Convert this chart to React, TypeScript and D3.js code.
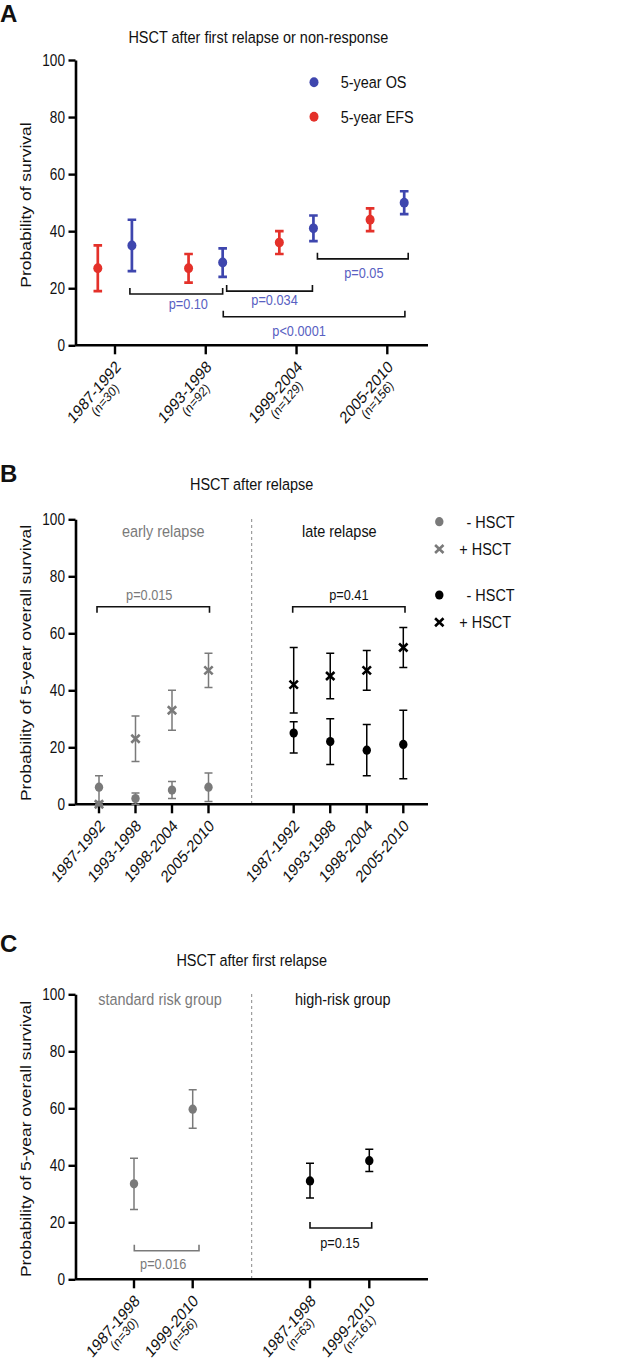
import { useEffect, useRef } from "react";
import * as d3 from "d3";

// the original figure is squeezed horizontally, so text gets the same squeeze
const SX = 0.85;
const FONT = "'Liberation Sans', Arial, Helvetica, sans-serif";
const BLUE = "#3e46ae";
const RED = "#e4312a";
const PBLUE = "#5860c2";
const GREY = "#7a7a7a";
const INK = "#111";

const yTicks = [0, 20, 40, 60, 80, 100];

// ---- panel A : HSCT after first relapse or non-response
const periodsA = ["1987-1992", "1993-1998", "1999-2004", "2005-2010"];
const countsA = ["(n=30)", "(n=92)", "(n=129)", "(n=156)"];
const efsMid = [27, 27, 36, 44];
const efsLo = [19, 22, 32, 40];
const efsHi = [35, 32, 40, 48];
const osMid = [35, 29, 41, 50];
const osLo = [26, 24, 36.5, 46];
const osHi = [44, 34, 45.5, 54];
const pLabelsA = ["p=0.10", "p=0.034", "p=0.05", "p<0.0001"];
const pFromA = [0, 1, 2, 1];
const pToA = [1, 2, 3, 3];
const pLevelA = [18, 19, 30.3, 10];

// ---- panel B : HSCT after relapse
const periodsB = ["1987-1992", "1993-1998", "1998-2004", "2005-2010"];
const earlyNoMid = [6, 2, 5, 6];
const earlyNoLo = [1, 0, 2, 1];
const earlyNoHi = [10, 4, 8, 11];
const earlyTxMid = [0, 23, 33, 47];
const earlyTxLo = [0, 15, 26, 41];
const earlyTxHi = [0, 31, 40, 53];
const lateNoMid = [25, 22, 19, 21];
const lateNoLo = [18, 14, 10, 9];
const lateNoHi = [29, 30, 28, 33];
const lateTxMid = [42, 45, 47, 55];
const lateTxLo = [32, 37, 40, 48];
const lateTxHi = [55, 53, 54, 62];
const pLevelB = [69.3, 69.3];
const pLabelsB = ["p=0.015", "p=0.41"];

// ---- panel C : HSCT after first relapse
const periodsC = ["1987-1998", "1999-2010"];
const countsStd = ["(n=30)", "(n=56)"];
const countsHigh = ["(n=63)", "(n=161)"];
const stdMid = [33.5, 59.7];
const stdLo = [24.5, 53];
const stdHi = [42.5, 66.5];
const highMid = [34.5, 41.6];
const highLo = [28.5, 37.8];
const highHi = [40.7, 45.6];
const pLevelC = [10, 18];
const pLabelsC = ["p=0.016", "p=0.15"];

type Sel = d3.Selection<SVGGElement, unknown, null, undefined>;

function txt(g: Sel, x: number, y: number, s: string, size: number, o: any = {}) {
  const { anchor = "start", fill = INK, weight = "normal", rotate = 0, sx = SX } = o;
  return g.append("text")
    .attr("transform", `translate(${x},${y}) scale(${sx},1)${rotate ? ` rotate(${rotate})` : ""}`)
    .attr("text-anchor", anchor)
    .attr("font-size", size)
    .attr("font-weight", weight)
    .attr("fill", fill)
    .text(s);
}

function yAxis(g: Sel, x0: number, y: d3.ScaleLinear<number, number>) {
  const ax = g.append("g")
    .attr("transform", `translate(${x0},0)`)
    .call(d3.axisLeft(y).tickValues(yTicks).tickSize(7).tickSizeOuter(0).tickPadding(5.4));
  ax.select(".domain").attr("stroke", "#000").attr("stroke-width", 2.6);
  ax.selectAll(".tick line").attr("stroke", "#000").attr("stroke-width", 2.4);
  ax.selectAll(".tick text")
    .attr("transform", `scale(${SX},1)`)
    .attr("font-size", 16)
    .attr("font-family", FONT)
    .attr("fill", INK);
}

function xAxis(g: Sel, x0: number, x1: number, y0: number, ticks: number[]) {
  g.append("line").attr("x1", x0).attr("x2", x1).attr("y1", y0).attr("y2", y0)
    .attr("stroke", "#000").attr("stroke-width", 2.6);
  g.append("g").selectAll("line").data(ticks).join("line")
    .attr("x1", d => d).attr("x2", d => d).attr("y1", y0).attr("y2", y0 + 9)
    .attr("stroke", "#000").attr("stroke-width", 2.4);
}

// rotated period labels, optional count line centred underneath
function xLabels(g: Sel, xs: number[], y0: number, labels: string[], sub?: string[]) {
  xs.forEach((x, i) => {
    const ax = x + 6.5;
    const ay = y0 + 22.5;
    const t = txt(g, ax, ay, labels[i], 16.8, { anchor: "end", rotate: -45 });
    if (sub) {
      const w = (t.node() as SVGTextElement).getComputedTextLength();
      g.append("text")
        .attr("transform", `translate(${ax},${ay}) scale(${SX},1) rotate(-45)`)
        .attr("x", -w / 2 + 4)
        .attr("y", 13.5)
        .attr("text-anchor", "middle")
        .attr("font-size", 13.5)
        .attr("fill", INK)
        .text(sub[i]);
    }
  });
}

function errorPoints(
  g: Sel, xs: number[], mid: number[], lo: number[], hi: number[],
  y: d3.ScaleLinear<number, number>, color: string, shape: "dot" | "x",
  sw: number, cap: number, r: number
) {
  const grp = g.append("g");
  xs.forEach((x, i) => {
    grp.append("path")
      .attr("d", `M${x - cap},${y(hi[i])}H${x + cap}M${x},${y(hi[i])}V${y(lo[i])}M${x - cap},${y(lo[i])}H${x + cap}`)
      .attr("fill", "none").attr("stroke", color).attr("stroke-width", sw);
    marker(grp, x, y(mid[i]), color, shape, r);
  });
}

function marker(g: Sel, x: number, y: number, color: string, shape: "dot" | "x", r: number) {
  if (shape === "dot") {
    g.append("ellipse").attr("cx", x).attr("cy", y).attr("rx", r).attr("ry", r * 1.1).attr("fill", color);
  } else {
    g.append("path")
      .attr("d", `M${x - 4.2},${y - 4}L${x + 4.2},${y + 4}M${x + 4.2},${y - 4}L${x - 4.2},${y + 4}`)
      .attr("stroke", color).attr("stroke-width", 2.6).attr("fill", "none");
  }
}

// bracket: horizontal line at level, ends bent by dir (-1 up, +1 down)
function bracket(g: Sel, x0: number, x1: number, yy: number, dir: number, color: string) {
  g.append("path")
    .attr("d", `M${x0},${yy + dir * 6}V${yy}H${x1}V${yy + dir * 6}`)
    .attr("fill", "none").attr("stroke", color).attr("stroke-width", 1.6);
}

function divider(g: Sel, x: number, y0: number, y1: number) {
  g.append("line").attr("x1", x).attr("x2", x).attr("y1", y0).attr("y2", y1)
    .attr("stroke", "#888").attr("stroke-width", 1).attr("stroke-dasharray", "3,3");
}

function drawA(root: Sel) {
  const g = root.append("g");
  const axisX = 75.5;
  const y = d3.scaleLinear().domain([0, 100]).range([345.3, 60]);
  const x = d3.scaleLinear().domain([0, 3]).range([115, 387.3]);
  const ticks = periodsA.map((_, i) => x(i));
  const efsX = ticks.map(t => t - 17.2);
  const osX = ticks.map(t => t + 16.9);

  txt(g, 0, 21.5, "A", 24, { weight: "bold", sx: 1 });
  txt(g, 258.3, 42.7, "HSCT after first relapse or non-response", 17, { anchor: "middle" });
  txt(g, 30.5, 205, "Probability of survival", 17.5, { anchor: "middle", rotate: -90 });

  yAxis(g, axisX, y);
  xAxis(g, axisX, 428, y(0), ticks);
  xLabels(g, ticks, y(0), periodsA, countsA);

  errorPoints(g, efsX, efsMid, efsLo, efsHi, y, RED, "dot", 2.7, 4.3, 4.5);
  errorPoints(g, osX, osMid, osLo, osHi, y, BLUE, "dot", 2.7, 4.3, 4.5);

  // bracket end nudges and label offsets (layout only)
  const nudge = [[-2, 0], [4, -1], [4, 4], [0.6, 0.7]];
  const labDx = [12, 5, 1, -15];
  const labDy = [15.2, 14.4, 19, 19.3];
  pLabelsA.forEach((p, i) => {
    const x0 = osX[pFromA[i]] + nudge[i][0];
    const x1 = osX[pToA[i]] + nudge[i][1];
    const yy = y(pLevelA[i]);
    bracket(g, x0, x1, yy, -1, "#111");
    txt(g, (x0 + x1) / 2 + labDx[i], yy + labDy[i], p, 15, { anchor: "middle", fill: PBLUE });
  });

  marker(g, 314, 82.3, BLUE, "dot", 4.5);
  marker(g, 314, 116.7, RED, "dot", 4.5);
  txt(g, 340.7, 88.3, "5-year OS", 17);
  txt(g, 340.7, 122.7, "5-year EFS", 17);
}

function drawB(root: Sel) {
  const g = root.append("g");
  const axisX = 75.5;
  const y = d3.scaleLinear().domain([0, 100]).range([804.3, 519.3]);
  const xl = d3.scaleLinear().domain([0, 3]).range([99, 208.5]);
  const xr = d3.scaleLinear().domain([0, 3]).range([293.7, 403.3]);
  const left = periodsB.map((_, i) => xl(i));
  const right = periodsB.map((_, i) => xr(i));

  txt(g, 0, 482, "B", 24, { weight: "bold", sx: 1 });
  txt(g, 251.7, 490, "HSCT after relapse", 17, { anchor: "middle" });
  txt(g, 30.5, 663, "Probability of 5-year overall survival", 17.5, { anchor: "middle", rotate: -90 });

  divider(g, 251.7, 519, y(0));
  yAxis(g, axisX, y);
  xAxis(g, axisX, 428, y(0), [...left, ...right]);
  xLabels(g, left, y(0), periodsB);
  xLabels(g, right, y(0), periodsB);

  txt(g, 163.3, 537, "early relapse", 17, { anchor: "middle", fill: GREY });
  txt(g, 339.3, 537, "late relapse", 17, { anchor: "middle" });

  errorPoints(g, left, earlyNoMid, earlyNoLo, earlyNoHi, y, GREY, "dot", 1.5, 4, 4.2);
  errorPoints(g, left, earlyTxMid, earlyTxLo, earlyTxHi, y, GREY, "x", 1.5, 4, 4.2);
  errorPoints(g, right, lateNoMid, lateNoLo, lateNoHi, y, "#000", "dot", 1.5, 4, 4.2);
  errorPoints(g, right, lateTxMid, lateTxLo, lateTxHi, y, "#000", "x", 1.5, 4, 4.2);

  const ends = [[left[0] - 2, left[3] + 1], [right[0] - 1, right[3] + 1.7]];
  const labDx = [-4, 0];
  const colors = [GREY, INK];
  pLabelsB.forEach((p, i) => {
    const yy = y(pLevelB[i]);
    bracket(g, ends[i][0], ends[i][1], yy, 1, "#111");
    txt(g, (ends[i][0] + ends[i][1]) / 2 + labDx[i], yy - 6.5, p, 15, { anchor: "middle", fill: colors[i] });
  });

  marker(g, 439.3, 521.7, GREY, "dot", 4.2);
  marker(g, 439.3, 549, GREY, "x", 4.2);
  marker(g, 439.3, 595, "#000", "dot", 4.2);
  marker(g, 439.3, 622.3, "#000", "x", 4.2);
  txt(g, 466.5, 527.5, "- HSCT", 17);
  txt(g, 459.3, 555, "+ HSCT", 17);
  txt(g, 466.5, 600.7, "- HSCT", 17);
  txt(g, 459.3, 628.3, "+ HSCT", 17);
}

function drawC(root: Sel) {
  const g = root.append("g");
  const axisX = 75.5;
  const y = d3.scaleLinear().domain([0, 100]).range([1279.3, 994.3]);
  const xl = d3.scaleLinear().domain([0, 1]).range([134, 192.7]);
  const xr = d3.scaleLinear().domain([0, 1]).range([310, 369.3]);
  const left = periodsC.map((_, i) => xl(i));
  const right = periodsC.map((_, i) => xr(i));

  txt(g, 0, 951.5, "C", 24, { weight: "bold", sx: 1 });
  txt(g, 251.7, 966, "HSCT after first relapse", 17, { anchor: "middle" });
  txt(g, 30.5, 1139, "Probability of 5-year overall survival", 17.5, { anchor: "middle", rotate: -90 });

  divider(g, 251.7, 994, y(0));
  yAxis(g, axisX, y);
  xAxis(g, axisX, 428, y(0), [...left, ...right]);
  xLabels(g, left, y(0), periodsC, countsStd);
  xLabels(g, right, y(0), periodsC, countsHigh);

  txt(g, 160, 1005, "standard risk group", 17, { anchor: "middle", fill: GREY });
  txt(g, 342.7, 1005, "high-risk group", 17, { anchor: "middle" });

  errorPoints(g, left, stdMid, stdLo, stdHi, y, GREY, "dot", 1.5, 4, 4.2);
  errorPoints(g, right, highMid, highLo, highHi, y, "#000", "dot", 1.5, 4, 4.2);

  const ends = [[left[0] + 0.3, left[1] + 6.3], [right[0], right[1] + 2.4]];
  const labDx = [-3.4, -1];
  const labDy = [18, 20.4];
  const colors = [GREY, INK];
  pLabelsC.forEach((p, i) => {
    const yy = y(pLevelC[i]);
    bracket(g, ends[i][0], ends[i][1], yy, -1, colors[i] === GREY ? GREY : "#111");
    txt(g, (ends[i][0] + ends[i][1]) / 2 + labDx[i], yy + labDy[i], p, 15, { anchor: "middle", fill: colors[i] });
  });
}

export default function App() {
  const ref = useRef<SVGSVGElement>(null);

  useEffect(() => {
    const svg = d3.select(ref.current);
    svg.selectAll("*").remove();
    const root = svg.append("g").attr("font-family", FONT) as unknown as Sel;
    drawA(root);
    drawB(root);
    drawC(root);
  }, []);

  return (
    <svg
      ref={ref}
      width={634}
      height={1362}
      style={{ position: "absolute", left: 0, top: 0, background: "#fff" }}
    />
  );
}
